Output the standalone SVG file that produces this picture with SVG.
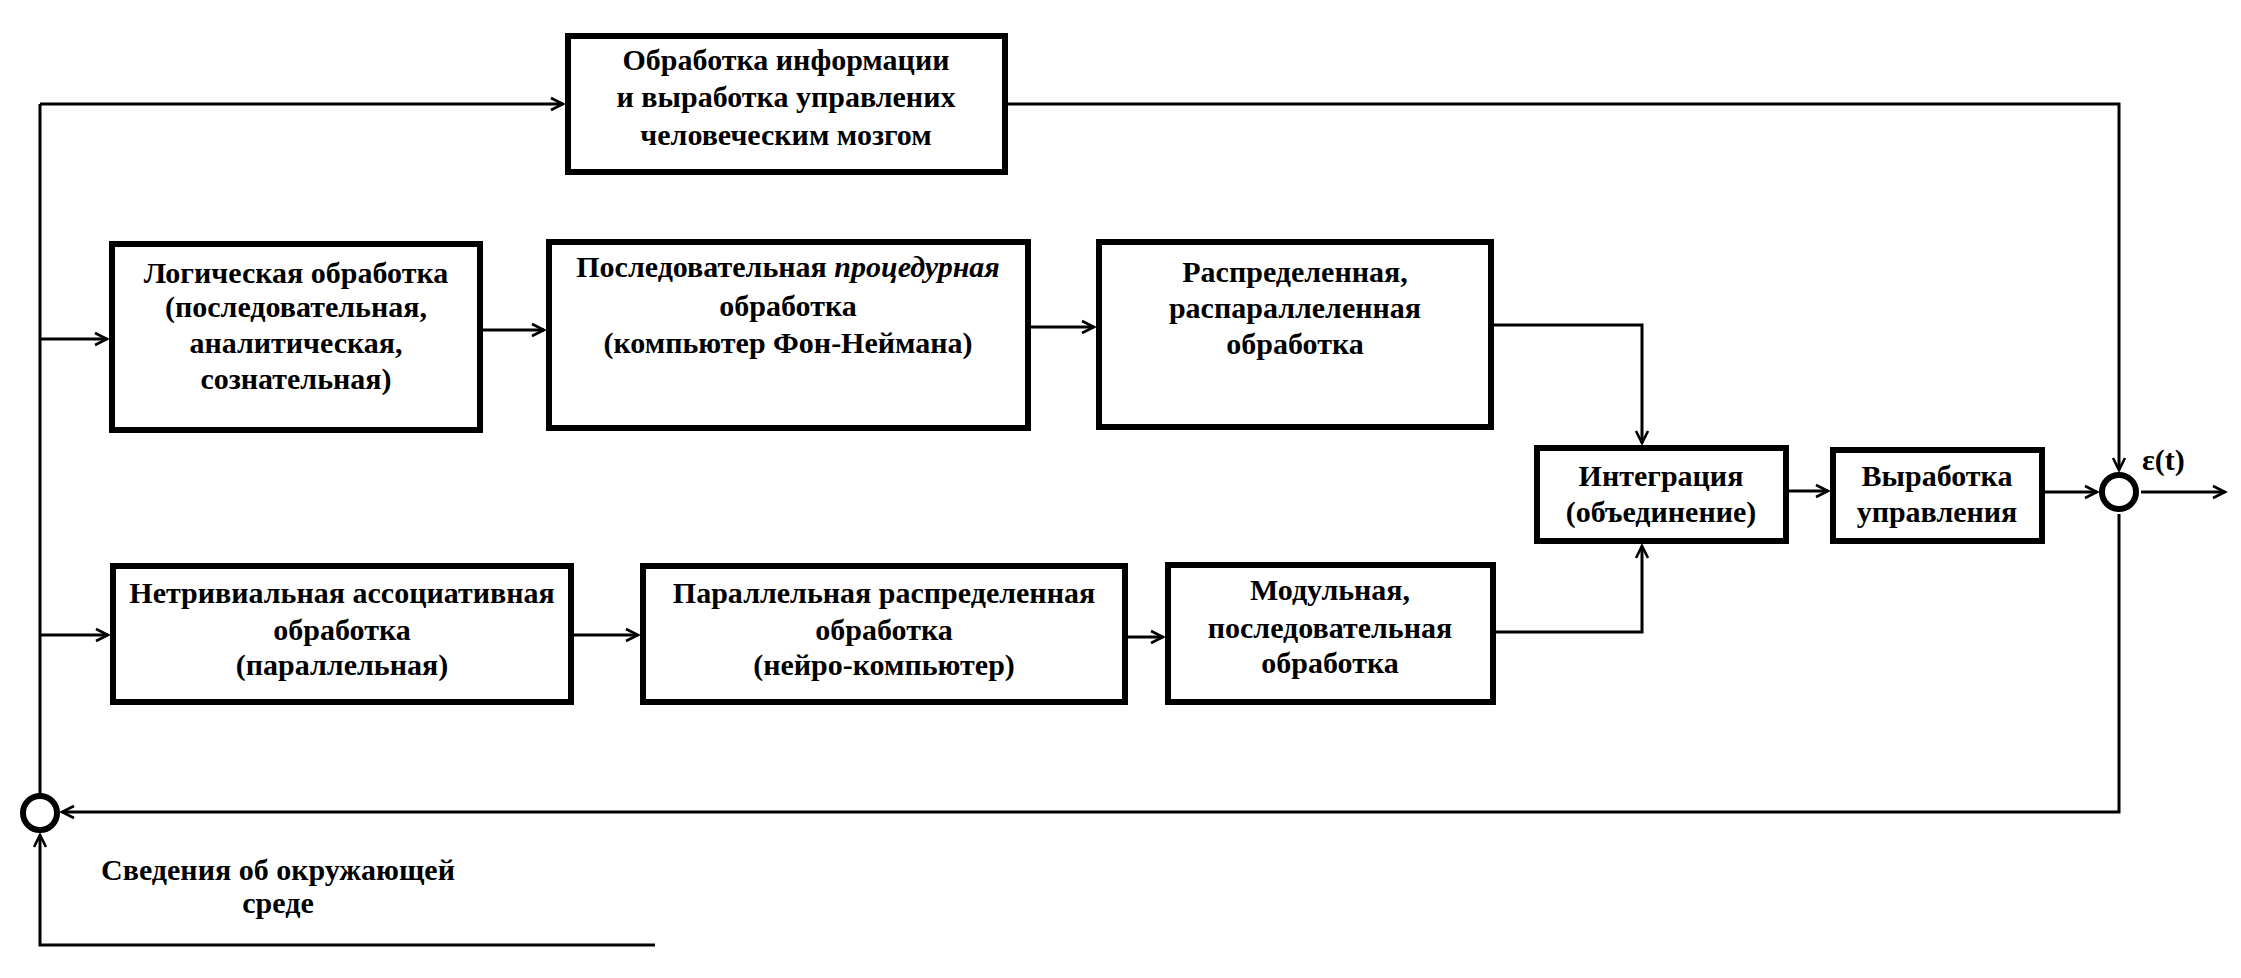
<svg xmlns="http://www.w3.org/2000/svg" width="2241" height="978" viewBox="0 0 2241 978">
<style>
.box{fill:#fff;stroke:#000;stroke-width:6}
.sum{fill:#fff;stroke:#000;stroke-width:6}
.t{font-family:"Liberation Serif","Times New Roman",serif;font-size:30px;font-weight:bold;fill:#000;text-anchor:middle}
.c{fill:none;stroke:#000;stroke-width:3}
</style>
<defs>
<marker id="arr" markerUnits="userSpaceOnUse" markerWidth="16" markerHeight="16" refX="13" refY="7" orient="auto" viewBox="0 0 16 14">
<path d="M1,1 L13,7 L1,13" fill="none" stroke="#000" stroke-width="2.6"/>
</marker>
</defs>
<rect width="2241" height="978" fill="#fff"/>
<g id="connectors">
<path class="c" d="M40,104 V796"/>
<path class="c" d="M40,104 H563" marker-end="url(#arr)"/>
<path class="c" d="M1008,104 H2119 V470" marker-end="url(#arr)"/>
<path class="c" d="M40,339 H107" marker-end="url(#arr)"/>
<path class="c" d="M483,330 H544" marker-end="url(#arr)"/>
<path class="c" d="M1031,327 H1094" marker-end="url(#arr)"/>
<path class="c" d="M1494,325 H1642 V443" marker-end="url(#arr)"/>
<path class="c" d="M40,635 H108" marker-end="url(#arr)"/>
<path class="c" d="M574,635 H638" marker-end="url(#arr)"/>
<path class="c" d="M1128,637 H1163" marker-end="url(#arr)"/>
<path class="c" d="M1496,632 H1642 V546" marker-end="url(#arr)"/>
<path class="c" d="M1789,491 H1828" marker-end="url(#arr)"/>
<path class="c" d="M2045,492 H2097" marker-end="url(#arr)"/>
<path class="c" d="M2141,492 H2225" marker-end="url(#arr)"/>
<path class="c" d="M2119,514 V812 H62" marker-end="url(#arr)"/>
<path class="c" d="M655,945 H40 V835" marker-end="url(#arr)"/>
</g>
<g id="sum-right"><circle class="sum" cx="2119" cy="492" r="17"/></g>
<g id="sum-left"><circle class="sum" cx="40" cy="813" r="17"/></g>
<g id="brain">
<rect class="box" x="568" y="36" width="437" height="136"/>
<text class="t" x="786" y="70">Обработка информации</text>
<text class="t" x="786" y="107">и выработка управлених</text>
<text class="t" x="786" y="145">человеческим мозгом</text>
</g>
<g id="logic">
<rect class="box" x="112" y="244" width="368" height="186"/>
<text class="t" x="296" y="283">Логическая обработка</text>
<text class="t" x="296" y="317">(последовательная,</text>
<text class="t" x="296" y="353">аналитическая,</text>
<text class="t" x="296" y="389">сознательная)</text>
</g>
<g id="sequential">
<rect class="box" x="549" y="242" width="479" height="186"/>
<text class="t" x="788" y="277">Последовательная <tspan font-style="italic">процедурная</tspan></text>
<text class="t" x="788" y="316">обработка</text>
<text class="t" x="788" y="353">(компьютер Фон-Неймана)</text>
</g>
<g id="distributed">
<rect class="box" x="1099" y="242" width="392" height="185"/>
<text class="t" x="1295" y="282">Распределенная,</text>
<text class="t" x="1295" y="318">распараллеленная</text>
<text class="t" x="1295" y="354">обработка</text>
</g>
<g id="integration">
<rect class="box" x="1537" y="448" width="249" height="93"/>
<text class="t" x="1661" y="486">Интеграция</text>
<text class="t" x="1661" y="522">(объединение)</text>
</g>
<g id="control">
<rect class="box" x="1833" y="450" width="209" height="91"/>
<text class="t" x="1937" y="486">Выработка</text>
<text class="t" x="1937" y="522">управления</text>
</g>
<g id="associative">
<rect class="box" x="113" y="566" width="458" height="136"/>
<text class="t" x="342" y="603">Нетривиальная ассоциативная</text>
<text class="t" x="342" y="640">обработка</text>
<text class="t" x="342" y="675">(параллельная)</text>
</g>
<g id="parallel">
<rect class="box" x="643" y="566" width="482" height="136"/>
<text class="t" x="884" y="603">Параллельная распределенная</text>
<text class="t" x="884" y="640">обработка</text>
<text class="t" x="884" y="675">(нейро-компьютер)</text>
</g>
<g id="modular">
<rect class="box" x="1168" y="565" width="325" height="137"/>
<text class="t" x="1330" y="600">Модульная,</text>
<text class="t" x="1330" y="638">последовательная</text>
<text class="t" x="1330" y="673">обработка</text>
</g>
<g id="labels">
<text class="t" x="2142" y="470" style="text-anchor:start">ε(t)</text>
<text class="t" x="278" y="880">Сведения об окружающей</text>
<text class="t" x="278" y="913">среде</text>
</g>
</svg>
